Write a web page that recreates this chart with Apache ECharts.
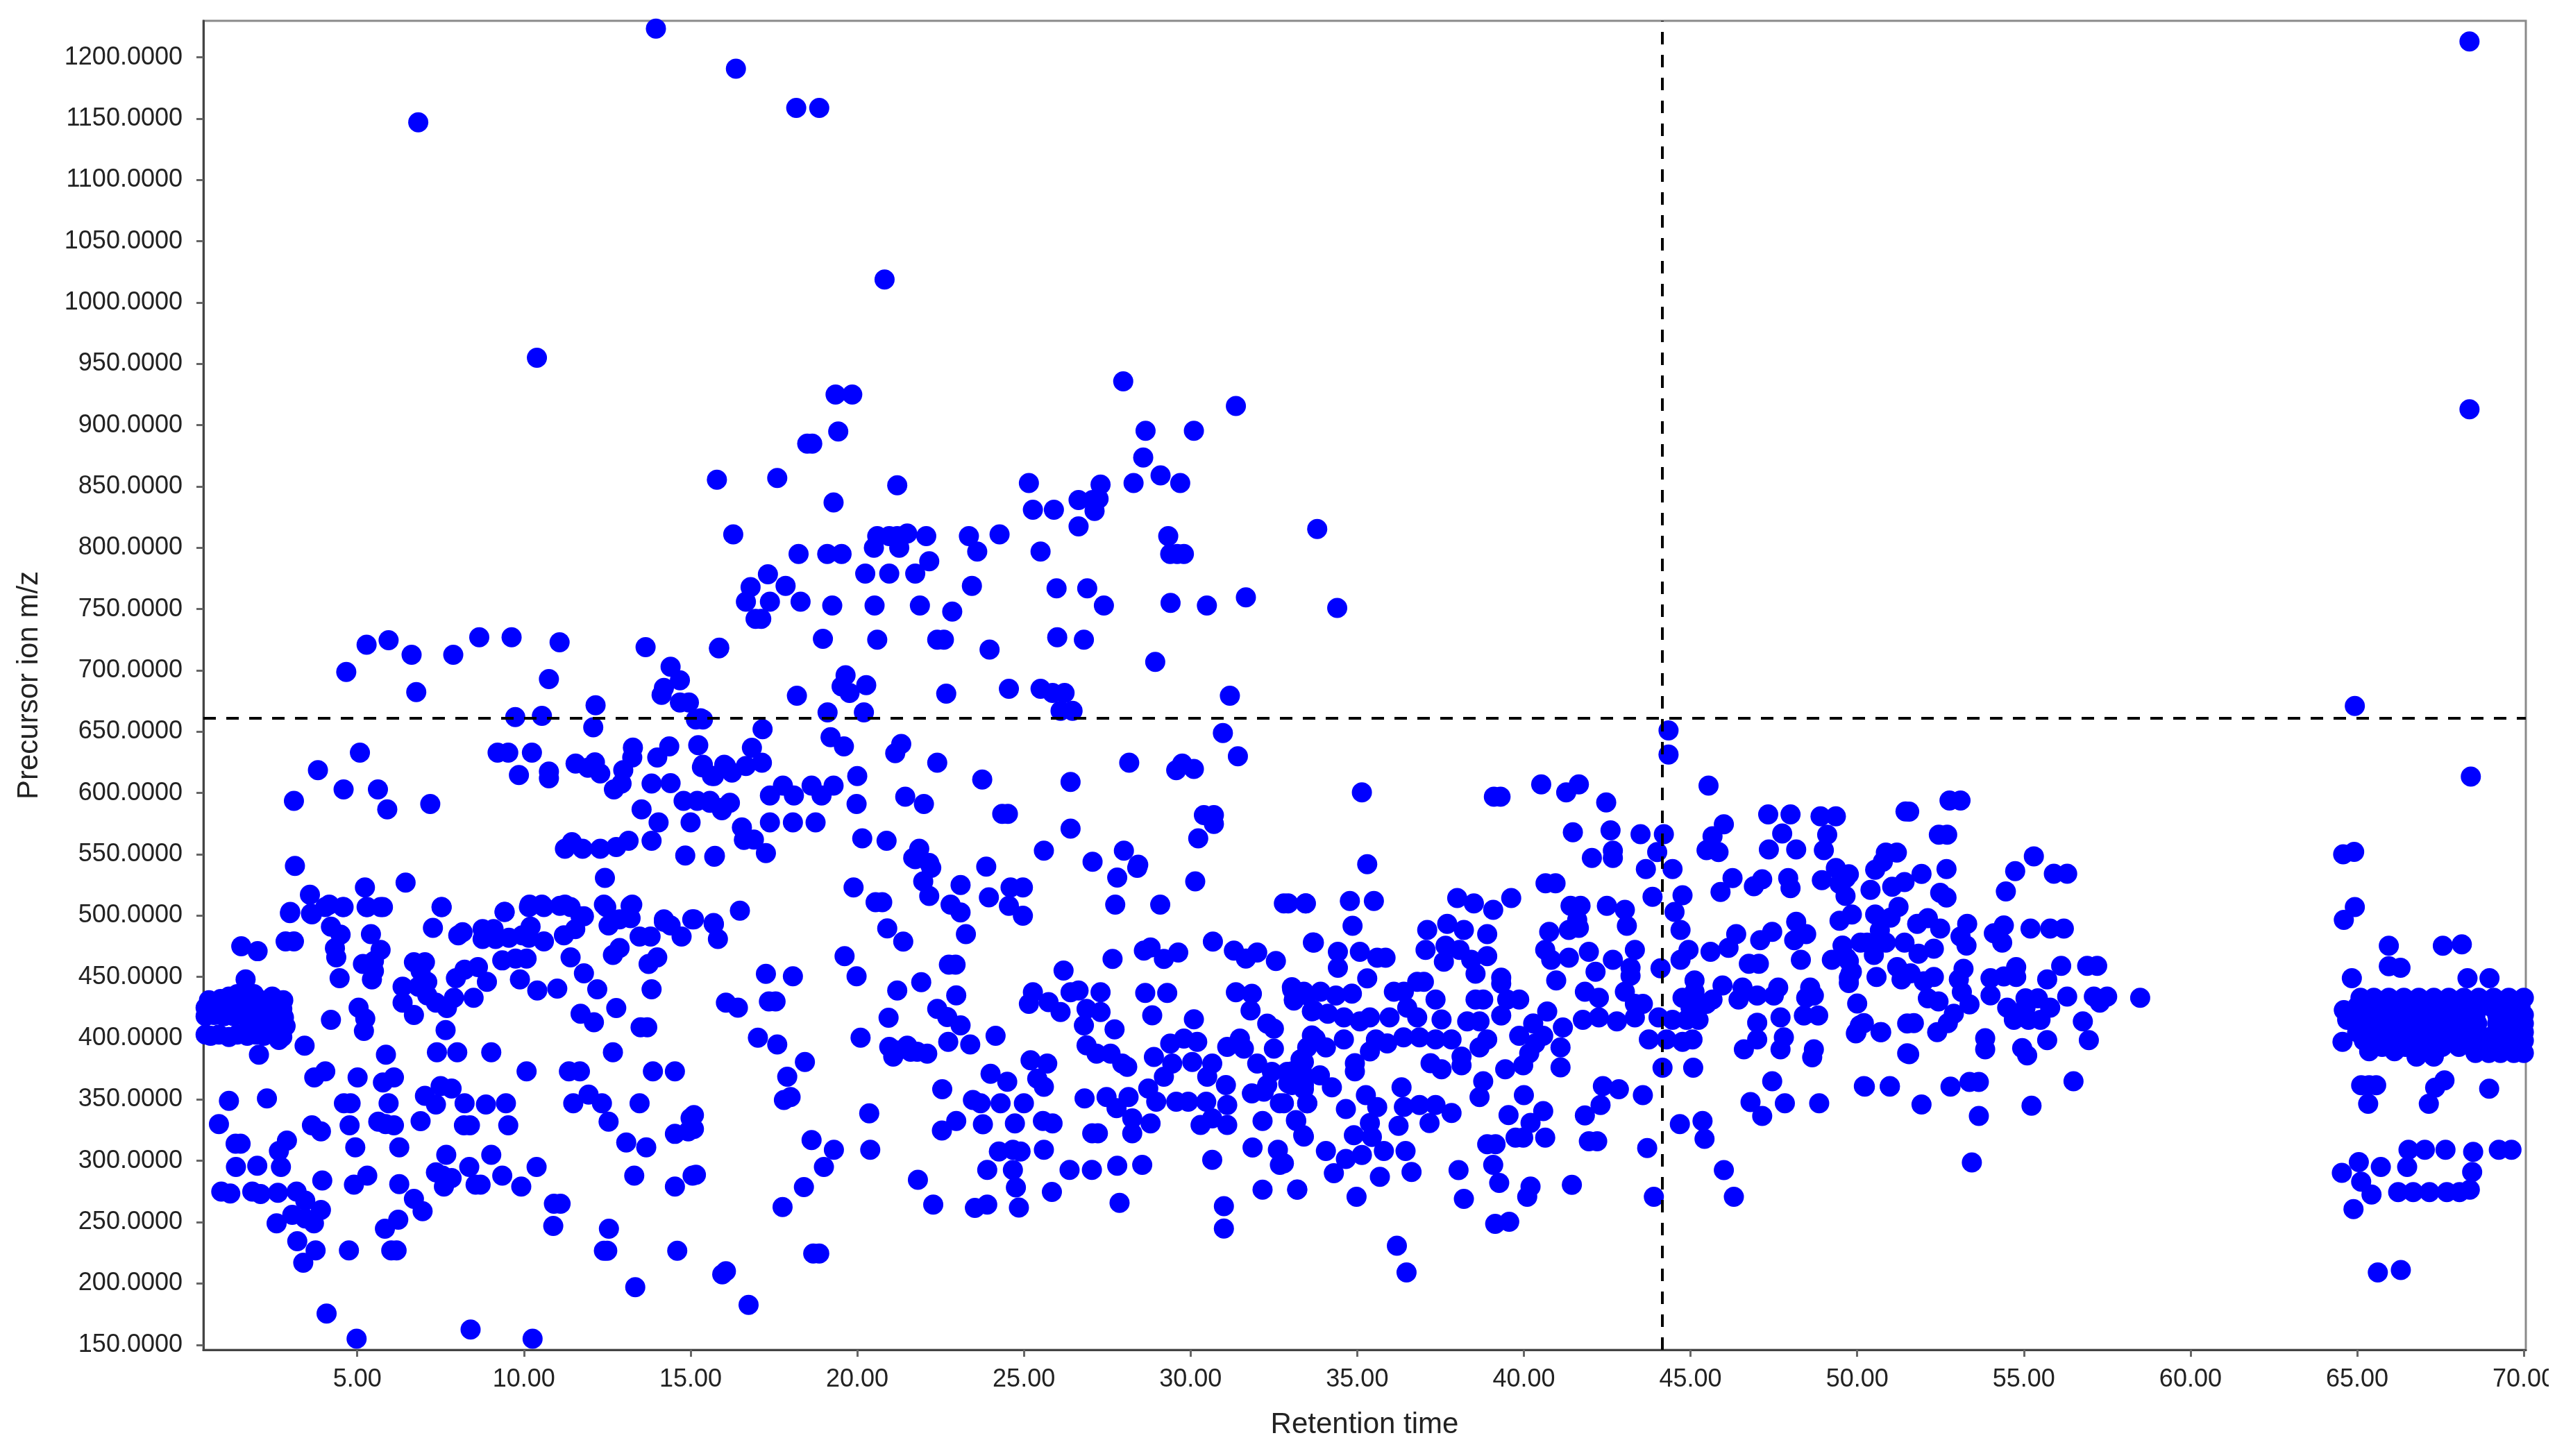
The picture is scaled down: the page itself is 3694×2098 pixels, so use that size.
<!DOCTYPE html>
<html><head><meta charset="utf-8">
<style>html,body{margin:0;padding:0;background:#fff}#c{width:3694px;height:2098px}</style>
<script src="https://cdn.jsdelivr.net/npm/echarts@6/dist/echarts.min.js"></script>
</head><body><div id="c"></div>
<script>
const xTicks=[5,10,15,20,25,30,35,40,45,50,55,60,65,70];
const yTicks=[150,200,250,300,350,400,450,500,550,600,650,700,750,800,850,900,950,1000,1050,1100,1150,1200];
const retentionMarker=44.16;
const precursorMarker=661.2;
const outliers=[[6.83,1147],[10.39,955],[13.96,1223.5],[16.36,1190.8],[18.17,1158.8],[18.86,1158.8],[20.82,1018.8],[68.37,1213],[68.37,913],[68.41,613.4]];
const earlyCluster=[[0.45,403],[0.6,402],[0.85,403],[1.15,401],[1.4,403],[1.7,402],[1.95,403],[2.2,402],[2.5,403],[2.75,401],[0.45,418],[0.7,419],[1,418],[1.3,418],[1.55,419],[0.45,425],[0.8,426],[1.1,425],[1.45,426],[1.8,425],[2.1,426],[2.45,425],[2.75,424],[0.55,431],[0.9,432],[1.15,434],[1.5,431],[1.8,433],[2.1,431],[2.45,434],[2.78,431],[1.75,410],[2,411],[2.3,410],[2.6,411],[2.85,410],[1.9,418],[2.2,417],[2.55,418],[2.8,417],[2.65,398.6],[2.05,386.6],[1.65,448],[1.4,436],[1.9,436]];
const leftLower=[[2.98,502],[2.85,479],[3.1,479],[1.52,475],[2.01,471],[3.64,501],[4.04,507],[4.57,507],[4.21,491],[4.5,484.5],[4.33,473.5],[4.37,466],[4.47,449],[5.3,507],[5.77,507],[5.41,485],[5.7,472],[5.17,460.6],[5.5,463],[5.5,455],[5.44,448],[7.27,490],[7.53,507],[8.03,484],[8.16,486.5],[8.76,489],[9.09,489],[8.76,481],[9.15,481],[9.55,482],[9.95,484],[10.2,491],[10.15,482],[9.42,503],[10.15,507],[10.6,507],[10.6,479],[9.35,463.5],[9.75,465],[10.08,465],[9.88,448],[10.4,439],[11,440.5],[12.2,440],[11.4,466],[11.8,453],[11.2,484],[11.54,489],[11.8,499.5],[11.4,507],[11.08,508],[12.54,492],[12.87,497],[13.2,498],[12.47,507],[13.2,508],[12.67,468],[12.87,473.6],[13.47,483],[13.8,483],[13.74,460.6],[14,466],[13.83,440],[14.2,495],[14.4,492],[14.73,483],[12.77,424.6],[11.7,420],[12.1,413],[13.5,409],[13.7,409],[12.67,388.6],[13.87,373],[14.53,373],[10.08,373],[11.35,373],[11.68,373],[13.47,347],[11.48,347],[11.94,354],[12.34,347],[12.54,332],[13.07,315],[13.67,311],[13.31,288],[14.53,279],[15.06,288],[14.53,322],[14.93,324],[15,335],[13.34,197],[14.6,226.7],[12.4,226.7],[12.5,226.7],[12.55,244.6],[10.88,247],[10.9,265],[11.1,265],[9.92,279],[10.38,295],[9.02,305],[9.35,288],[8.55,280.6],[8.7,280.6],[8.36,295],[7.67,305],[7.36,290.7],[7.83,286],[7.6,279],[7.56,288],[9.02,388.6],[8,388.6],[7.39,388.6],[7.65,406.7],[9.46,347],[9.53,329],[8.86,346],[8.22,347],[8.2,329],[8.38,329],[7.36,346],[7.03,353],[7.5,361],[7.83,359],[6.9,332.4],[5.94,347],[5.63,332],[5.85,330],[6.1,329],[5.86,386.6],[6.1,368],[5.77,364],[5.01,368],[4.04,373],[3.71,368],[4.6,347],[4.8,347],[4.77,329],[3.64,329],[3.91,324],[4.94,311],[6.26,311],[5.3,288],[4.9,280.6],[6.26,281],[6.7,269],[6.96,259],[6.23,252],[5.83,244.6],[6.02,227],[6.18,227],[4.75,227],[3.75,227],[3.38,217],[3.2,234.5],[4.08,175.5],[4.98,155],[8.4,162.5],[10.26,155],[1.15,349],[2.29,351],[0.85,330],[1.35,314],[1.5,314],[1.36,295],[2,296],[2.71,295],[2.65,308],[2.89,316.6],[3.95,284],[0.92,275],[1.19,273.4],[1.85,275],[2.1,273],[2.62,274],[3.18,275],[3.44,267.6],[3.91,260],[3.05,256],[3.44,253],[3.7,249],[2.58,249],[3.42,394],[4.21,415],[5.04,425],[5.24,416],[5.2,406],[6.7,419],[6.36,429],[6.36,442],[6.7,462],[7.03,462],[6.9,455],[7.1,446],[6.83,442],[7.1,435],[7.36,429],[7.69,424.6],[7.9,433],[7.96,449],[8.22,456],[8.62,458],[8.89,446],[8.49,433]];
const leftUpper=[[4.67,698.7],[5.28,721],[5.94,724.7],[6.63,712.8],[6.77,682.4],[7.88,712.8],[8.66,727],[9.63,727],[11.07,723],[10.75,693],[13.65,719],[15.85,718],[14.4,703],[14.68,692],[14.2,685.7],[14.13,680],[14.68,673.8],[14.95,673.8],[15.16,660],[15.37,660],[9.74,662],[10.54,663],[12.15,671.6],[12.08,653.6],[13.27,637],[13.25,629],[14.36,638],[14,629],[15.23,639],[15.37,623],[15.64,614],[16.01,623],[12.98,618.6],[12.7,603],[12.93,607.7],[12.13,625],[11.55,624],[12.29,616],[11.92,620.7],[10.75,617.5],[10.75,612],[9.85,614.7],[10.24,633],[9.21,633],[9.53,633],[5.08,633],[3.82,618.6],[3.1,593.6],[4.59,603],[5.62,603],[5.9,586.7],[7.19,591],[13.83,607.7],[14.4,608],[13.53,586.7],[14.04,576],[15,576],[14.79,593.6],[15.2,593.6],[15.58,593.6],[15.96,588],[13.83,561],[13.14,561],[12.77,556],[12.29,554.6],[11.76,554.6],[11.23,554.6],[11.44,560],[14.84,549],[15.71,548],[12.43,530.8],[6.45,527],[5.23,523],[3.13,540.6],[3.58,517],[2.99,503],[3.61,501.6],[4.16,509],[4.59,507],[5.28,507],[5.7,507],[7.53,507],[9.42,503],[10.17,509],[10.54,509],[11.23,509],[12.4,509],[13.25,509],[14.2,497],[15.05,497],[15.69,494],[11.7,499.4]];
const midUpper=[[19.35,925],[19.85,925],[27.98,935.8],[31.36,915.6],[19.43,894.8],[18.5,885],[18.65,885],[28.65,895.4],[30.1,895.4],[15.79,855.5],[17.6,857],[21.2,851],[25.15,852.9],[27.3,851.5],[28.58,873.7],[28.29,852.9],[29.1,859],[29.69,852.9],[26.64,839],[27.06,839],[27.24,840],[27.12,830],[19.29,837],[25.27,831],[25.9,831],[26.64,817.4],[16.28,811],[24.27,811],[23.35,809.6],[23.6,797],[25.5,797],[29.33,809.6],[29.39,795],[29.6,795],[29.8,795],[33.8,815.4],[18.24,795],[19.1,795],[19.53,795],[20.6,809.6],[20.96,809.6],[21.5,811.6],[21.2,809.6],[22.07,809.6],[20.5,800],[21.26,800],[22.16,789],[21.74,779],[20.96,779],[20.24,779],[17.32,778.4],[16.8,768],[17.85,769],[16.66,756],[17.38,756],[16.95,742],[17.12,742],[18.3,756],[19.25,753],[20.52,753],[21.88,753],[22.85,748],[23.44,769],[25.98,767],[26.9,767],[27.4,753],[29.4,755],[30.49,753],[31.66,759.6],[34.4,751],[18.97,725.8],[20.6,725],[22.4,725],[22.6,725],[23.97,717],[26,727],[26.8,725],[28.94,707],[15.86,718.6],[19.65,696],[19.53,687],[19.77,681.6],[20.27,688],[18.19,679.3],[22.67,681],[24.55,685],[25.5,685],[25.86,681.6],[26.22,681.6],[26.46,667],[26.1,667],[31.18,679.3],[19.11,665.8],[20.2,665.8],[17.16,652],[30.97,649],[31.42,630],[15.3,661],[19.2,645.5],[19.6,638],[21.32,640],[21.14,632.5],[22.4,624.7],[28.16,624.7],[29.57,618.7],[29.75,624],[30.1,619.6],[16.84,636.9],[17.14,624.7],[16.66,622],[16.24,616.7],[15.7,613.8],[15.34,621],[16.06,622],[23.75,611],[26.4,609],[17.77,606],[17.38,598],[18.1,598],[18.63,606],[19.29,606],[20,613.8],[18.93,598],[19.98,591],[21.44,597],[22,591],[24.35,583],[24.52,583],[26.4,571],[30.4,582],[30.7,582],[30.7,574.8],[30.23,563],[25.6,553],[27.06,544],[28,553],[28.43,541.6],[21.86,554.6],[22.16,543],[21.68,547],[23.87,540],[20.15,563],[20.88,561],[16.54,572],[16.6,561.8],[16.9,562],[17.26,551],[15.73,548.8],[17.38,576],[18.07,576],[18.75,576],[15.58,592],[15.94,586],[16.18,592]];
const midLower=[[28.4,539],[27.8,531],[21.74,546],[22.22,539],[21.98,528],[22.16,516],[23.1,525],[23.95,515],[24.6,523],[24.97,523],[24.55,508],[24.97,500],[22.8,509],[23.1,502.6],[23.26,485],[19.89,523],[20.55,511],[20.75,511],[20.9,489.6],[21.38,478.8],[30.14,528],[27.74,509],[29.09,509],[32.8,510],[33.45,510],[30.67,478.8],[33.67,478.2],[27.66,464.7],[28.6,471.5],[28.8,474],[29.2,464.7],[29.63,470],[31.3,471.5],[31.66,465],[32,470],[32.56,463],[16.48,504],[15.7,493],[15.82,481],[15.1,497],[19.62,467],[19.98,450.6],[17.26,452.5],[18.07,450.6],[22.75,460],[22.95,460],[21.92,445.7],[21.2,439],[22.97,435],[16.06,429],[16.42,425],[17.35,430],[17.55,430],[22.4,424],[22.7,417.3],[23.1,410.5],[20.94,416.8],[20.1,400.5],[17.02,400.5],[17.6,395],[20.96,393],[21.2,390],[21.5,394],[21.8,389],[22.1,387.5],[21.08,385],[21.6,389],[22.73,397],[23.39,395],[24.15,402],[18.43,380.7],[17.9,368.6],[17.8,349.6],[18,352],[25.2,382],[25.7,379.4],[25.4,367],[25.6,360.4],[24,371],[24.5,364.5],[22.55,358.5],[15.1,337.4],[15.1,326],[23.47,349.6],[23.7,347],[24.3,347],[25,347],[22.97,332.5],[22.54,324.7],[23.77,329.8],[24.73,330.6],[25.57,332.5],[25.86,330.6],[20.36,338.8],[18.63,317],[19.3,309],[20.39,309],[19,295],[18.4,278.6],[17.76,262.4],[15.16,288.7],[21.82,284.6],[22.28,264.3],[23.53,261.6],[23.9,264.3],[24.85,262],[23.9,292.7],[24.67,292.7],[24.25,307.6],[24.67,309],[24.9,307.6],[25.6,309],[24.76,278.4],[25.84,274.6],[26.37,292.7],[27.04,292.7],[27.8,296],[28.55,296.8],[27.87,265.7],[27.05,322.5],[27.22,322.5],[26.82,351],[27.48,352],[28.14,352],[27.78,343],[28.25,334.7],[28.25,322.5],[28.8,330.6],[31,263],[31,244.8],[30.65,300.8],[32.16,276.5],[33.2,276.5],[31.86,310.9],[32.62,309],[32.68,296.8],[32.16,332.5],[33.16,333.3],[33.4,319.8],[18.68,224.5],[18.86,224.5],[16.06,210],[15.95,207.4],[16.74,182.5],[25.27,437.6],[25.15,428],[25.74,429.5],[26.1,421.4],[26.4,437.6],[26.64,439],[27.3,437.6],[26.88,424],[27.3,421.4],[26.8,410.5],[26.19,455.2],[28.64,437],[29.3,437],[28.85,418.7],[27.72,407.3],[30.1,415.4],[26.88,394.3],[27.18,387.5],[27.6,387.5],[27.95,379.4],[28.1,376.7],[28.9,384.8],[29.39,395.6],[29.8,399.7],[30.2,397],[29.45,379.4],[30.05,380.7],[30.65,379.4],[29.2,368.6],[30.5,368.6],[31.06,361.8],[28.73,359],[28.97,348.3],[29.57,348.3],[29.93,348.3],[30.47,348.3],[30.3,329.3],[31.1,345.5],[31.1,329.3],[30.65,334.7],[31.36,437.6],[31.84,436.3],[31.8,422.7],[32.3,411.9],[32.5,407.8],[31.1,393],[31.48,399.7],[31.6,391.6],[33.04,441.7],[33.1,430.8],[33.5,435],[33.7,422.7],[32.5,391.6],[32,379.4],[32.44,372.6],[32.9,372.6],[33.4,380.7],[33.75,399.7],[31.84,355],[32.2,356.4],[32.68,347],[32.3,361.8],[33.04,361.8],[33.5,347],[33.4,361.8]];
const centreBand=[[44.34,651],[44.34,631.4],[35.14,600.5],[39.1,597],[39.3,597],[40.52,607],[41.27,600.5],[41.65,607],[42.47,592.4],[45.54,606],[51.45,585],[47.33,582.6],[48,582.6],[48.9,581],[49.36,581],[49.1,566],[47.75,567],[47.35,554],[48.17,554],[49,553.4],[41.47,568],[42.6,569.6],[43.5,566.4],[44.2,566.4],[44,551.8],[42.04,547],[42.67,553],[42.67,547],[46,574.5],[45.66,564.8],[45.48,553.4],[45.84,551.8],[35.3,542],[43.66,538],[44.46,538],[46.26,530.7],[45.9,519.3],[47.15,529.7],[46.9,524],[47.93,530.7],[48,522.5],[48.94,529],[49.36,538.8],[49.66,530.7],[40.65,526.4],[40.95,526.4],[43.86,515.4],[44.76,516.7],[44.52,503],[44.7,488.4],[41.4,508],[41.7,508],[41.6,496.5],[41.35,488.4],[40.76,486.8],[41.65,490],[42.49,508],[43.03,504.7],[43.09,491.7],[38,514.4],[38.5,510],[39.08,504.7],[39.62,514.4],[32.93,510],[33.46,510],[34.78,512],[35.5,512],[34.86,491.7],[37.1,488.4],[37.7,493.3],[38.2,488.4],[38.9,485],[33.7,478],[34.42,470.5],[34.42,457.5],[35.08,470.5],[35.6,465.7],[35.85,465.7],[35.3,448.8],[37.05,472],[37.65,475.4],[37.6,462.4],[38.07,472],[38.42,464],[38.9,467],[38.55,452.7],[39.32,449.4],[40.64,472],[40.82,464],[41.35,465.7],[41.95,470.5],[42.15,454.3],[42.67,464],[43.33,472],[43.2,457.5],[43.2,451],[40.97,447.2],[44.1,457],[44.94,472],[44.7,464],[45.6,470.5],[46.14,473.8],[46.37,485],[47.09,480],[47.45,486.8],[48.17,495],[48.47,485],[48.11,480],[46.75,460.8],[47.05,460.8],[48.31,464],[49.24,464],[49.68,465.7],[49.84,454.3],[49.75,449.4],[45.12,447.2],[45.96,443],[46.56,441.3],[46.44,431.6],[47,434.8],[47.63,441.3],[47.5,434.8],[48.59,441.3],[48.47,433],[48.7,434.8],[50,428.3],[48.4,418.6],[48.83,418.6],[47,412.7],[47.7,417],[47.8,400.7],[47.7,391],[47,399],[46.6,391],[48.7,391],[48.65,384.5],[50.08,410.5],[49.96,404],[50.7,405],[51.5,412],[51.5,387.7],[47.45,365],[46.8,348],[47.15,336.7],[47.83,347],[48.86,347],[50.2,361],[50.98,361],[44.76,433],[45.12,438],[45.48,428],[45.66,431.6],[45,425],[45.24,415],[44.04,417],[44.46,415],[44.88,415],[43.75,399],[44.28,399],[44.76,397],[45.06,399],[44.16,376],[45.08,376],[43.57,353.6],[42.37,361],[42.85,358.5],[42.3,345.5],[41.83,337],[44.68,330],[45.36,332.5],[45.42,318],[41.95,316],[42.2,316],[43.7,310.4],[46,292.5],[46.3,270.7],[43.9,270.7],[41.44,280.5],[40.2,279],[40.1,270.7],[39.56,250.3],[39.14,248.6],[36.19,230.8],[36.48,209],[38.04,292.5],[38.2,269],[38.9,313.6],[39.15,313.6],[39.08,296.7],[39.26,282],[39.75,319],[39.98,319],[40.64,319],[40.2,331],[40.58,340.6],[39.54,337.3],[40,353.6],[38.78,365],[38.67,352],[37.2,379.6],[37.53,374.7],[38.13,378],[38.13,385],[38.67,392.6],[38.9,399],[39.44,374.7],[39.98,378],[40.16,387.7],[40.34,395.8],[41.1,376.3],[41.1,392.6],[41.17,408.8],[40.7,421.8],[40.28,412],[40.58,402],[39.86,402],[39.32,418.6],[39.5,431.6],[39.86,431.6],[39.32,444.6],[38.3,413.7],[38.67,413.7],[38.55,431.6],[38.78,431.6],[37.35,431.6],[37.53,415.3],[36.8,446],[37,446],[36.1,438],[36.4,438],[36.8,417],[36.5,425],[35.97,417],[35.38,417],[35.08,413.7],[34.6,417],[34.12,420],[33.64,422],[33.05,439.7],[33.4,438],[33.9,438],[34.36,434.8],[34.84,436.4],[33.1,431.6],[37.83,399],[37.35,399],[36.87,400.7],[36.39,400.7],[35.9,395.8],[35.56,399],[35.38,389.3],[34.6,399],[34.06,392.6],[33.64,402.3],[33.5,392.6],[34.93,379.6],[34.93,373],[33.3,382.8],[33.05,373],[33.4,369.8],[32.93,363.3],[33.88,369.8],[34.24,360],[33.4,358.5],[33.5,347],[32.8,347],[36.33,360],[35.26,353.6],[35.6,343.8],[34.66,342.3],[35.38,330.9],[34.9,321],[35.44,319.5],[36.24,328.6],[36.4,344],[36.87,345.5],[37.35,345.5],[37.83,339],[37.17,330.9],[33.17,332.5],[33.38,321],[34.06,308],[34.66,301.6],[35.14,304.8],[35.8,308],[36.45,308],[34.3,290],[35.68,287],[36.63,291],[32.8,298],[33.2,276.6],[34.98,270.7],[41.83,438],[42.25,433],[43.03,438],[43.33,428],[43.57,428],[43.33,417],[41.77,415],[42.25,417],[42.79,413.7]];
const rightBand=[[52.77,593.9],[53.1,593.9],[51.56,584.8],[52.45,566],[52.7,566],[50.86,551.4],[51.19,551.4],[50.54,537.5],[50.77,544],[51.93,534],[52.68,538],[51.42,527.4],[51.05,523.6],[50.4,521],[52.49,518.6],[52.68,514.8],[51.24,507.2],[50.54,500.9],[51,498.4],[50.68,488],[50.3,478],[50.5,468],[50.1,478],[50.86,478],[51.42,478],[51.84,469],[52.3,473],[51.8,493.3],[52.12,498],[52.49,489.5],[53.3,493.3],[53.1,483],[53.28,475.6],[54.4,492],[54.1,485.7],[54.35,478],[55.2,489.5],[55.79,489.5],[56.2,489.5],[55.3,548.4],[54.74,536.3],[55.9,534.2],[56.3,534.2],[54.46,519.8],[49.47,526],[49.75,533.7],[49.65,516],[49.84,500.9],[49.47,495.8],[49.56,475.6],[49.75,463],[49.8,453],[49.75,445],[50.2,412.4],[49.98,405],[50.72,405],[50.58,450],[51.2,458],[51.6,453],[51.33,448],[52.3,450],[52,446.5],[52.12,432.6],[52.44,430],[51.7,412.4],[53.19,456.6],[53.05,448],[53.14,437.7],[53.37,427.6],[52.9,420],[52.72,412.4],[52.4,405],[51.56,387],[50.23,360.6],[50.98,360.6],[51.93,346],[52.8,360.6],[53.37,364.4],[53.65,364.4],[53.65,336.6],[53.44,298.7],[55.23,345],[56.49,365],[53.84,400],[53.84,391],[54.95,392],[55.1,386],[55.7,398.5],[56.95,398.5],[56.77,413.7],[56.3,434],[57.1,434],[57.5,434],[57.28,429],[58.49,433],[54.77,458],[54,449],[54,435],[54.4,450.4],[54.77,450],[55.7,448],[56.12,459],[56.9,459],[57.2,459],[55.42,432.6],[55.05,425],[54.7,415],[55.5,415],[55.14,415],[55.79,425],[54.5,425],[55.05,432.6]];
const lateSparse=[[64.93,671],[64.58,550],[64.91,552],[64.93,507],[64.6,496.5],[65.95,475.5],[67.57,475.5],[68.14,476.6],[65.95,458.8],[66.3,457.5],[64.84,449],[68.31,449],[68.97,449],[64.56,397],[64.6,423],[64.7,415],[65.36,389.4],[66.12,389.4],[66.78,385],[67.3,385],[65.36,361.7],[65.57,361.7],[65.12,361.7],[65.33,346.6],[67.62,365.7],[67.34,359.7],[67.15,346.6],[68.96,358.9],[66.54,309],[67.03,309],[67.65,309],[68.48,307.4],[69.25,309],[69.63,309],[65.05,299],[65.71,295],[66.5,295],[64.54,290.3],[68.45,291],[65.12,283],[65.43,272.5],[66.23,274.5],[66.68,274.5],[67.17,274.5],[67.69,274.5],[68.07,274.5],[68.38,276.5],[64.89,260.6],[65.62,209],[66.31,211]];
const lateDense=[[65.1,433],[65.5,433],[65.95,433],[66.4,433],[66.85,433],[67.3,433],[67.75,433],[68.2,433],[68.65,433],[69.1,433],[69.55,433],[70,433],[65,426],[65.4,426],[65.85,426],[66.3,426],[66.75,426],[67.2,426],[67.65,426],[68.1,426],[68.55,426],[69,426],[69.45,426],[69.9,426],[65.1,419],[65.25,412],[65.85,419],[66.3,419],[66.75,419],[67.2,419],[67.65,419],[68.1,419],[68.55,419],[69.2,419],[69.6,419],[70,419],[65.6,412],[66,412],[66.45,412],[66.9,412],[67.35,412],[67.8,412],[68.25,412],[68.6,412],[69.2,412],[69.65,412],[70,412],[65,405],[65.45,405],[65.9,405],[66.35,405],[66.8,405],[67.25,405],[67.7,405],[68.15,405],[68.6,405],[69.2,405],[69.6,405],[70,405],[65.2,398],[65.6,398],[66.05,398],[66.5,398],[66.95,398],[67.4,398],[67.85,398],[68.3,398],[68.75,398],[69.2,398],[69.65,398],[70,398],[68.55,388],[68.95,388],[69.3,388],[69.7,388],[70,388]];
const lateFill=[[65.3,429],[65.72,429],[66.18,429],[66.62,429],[67.08,429],[67.52,429],[67.98,429],[68.42,429],[68.85,429],[69.3,429],[69.75,429],[65.2,422],[66.08,422],[66.52,422],[66.98,422],[67.42,422],[67.88,422],[68.32,422],[69.3,422],[69.75,422],[66.18,415],[66.62,415],[67.08,415],[67.52,415],[67.98,415],[68.42,415],[69.4,415],[69.85,415],[65.25,408],[65.7,408],[66.15,408],[66.6,408],[67.05,408],[67.5,408],[67.95,408],[68.4,408],[69.4,408],[69.85,408],[65.4,401],[65.85,401],[66.3,401],[66.72,401],[67.18,401],[67.62,401],[68.08,401],[68.52,401],[68.98,401],[69.42,401],[69.85,401],[65.75,393],[66.45,393],[67,393],[67.55,393],[68.05,393],[68.75,393],[69.15,393],[69.5,393],[69.9,393]];
const points=[].concat(outliers,earlyCluster,leftLower,leftUpper,midUpper,midLower,centreBand,rightBand,lateSparse,lateDense,lateFill);
const chart=echarts.init(document.getElementById('c'),null,{renderer:'canvas'});
const font='"Liberation Sans", Arial, sans-serif';
chart.setOption({
  animation:false,
  backgroundColor:'#fff',
  grid:{left:293,right:55,top:30,bottom:153,outerBoundsMode:'none',containLabel:false,show:true,borderColor:'#8a8a8a',borderWidth:3,backgroundColor:'#fff'},
  xAxis:{type:'value',min:0.383,max:70.06,name:'Retention time',nameLocation:'middle',nameGap:87,
    nameTextStyle:{fontFamily:font,fontSize:42,color:'#222'},
    axisLine:{show:true,onZero:false,lineStyle:{color:'#444',width:3}},
    axisTick:{show:true,customValues:xTicks,length:10,lineStyle:{color:'#666',width:3}},
    axisLabel:{customValues:xTicks,margin:25,fontFamily:font,fontSize:36,color:'#222',formatter:v=>v.toFixed(2)},
    splitLine:{show:false}},
  yAxis:{type:'value',min:145.9,max:1229.8,name:'Precursor ion m/z',nameLocation:'middle',nameRotate:90,nameGap:230,
    nameTextStyle:{fontFamily:font,fontSize:42,color:'#222'},
    axisLine:{show:true,onZero:false,lineStyle:{color:'#444',width:3}},
    axisTick:{show:true,customValues:yTicks,length:10,lineStyle:{color:'#666',width:3}},
    axisLabel:{customValues:yTicks,margin:30,padding:[4,0,0,0],fontFamily:font,fontSize:36,color:'#222',formatter:v=>v.toFixed(4)},
    splitLine:{show:false}},
  series:[{type:'scatter',data:points,symbol:'circle',symbolSize:29,itemStyle:{color:'#0000ff',opacity:1},clip:true,
    markLine:{silent:true,symbol:'none',animation:false,label:{show:false},
      lineStyle:{color:'#000',type:[18,15],width:4},
      data:[{xAxis:retentionMarker},{yAxis:precursorMarker}]}}],
  graphic:[{type:'rect',z:100,shape:{x:3672,y:1955,width:22,height:80},style:{fill:'#fff'}}]
});
</script></body></html>
